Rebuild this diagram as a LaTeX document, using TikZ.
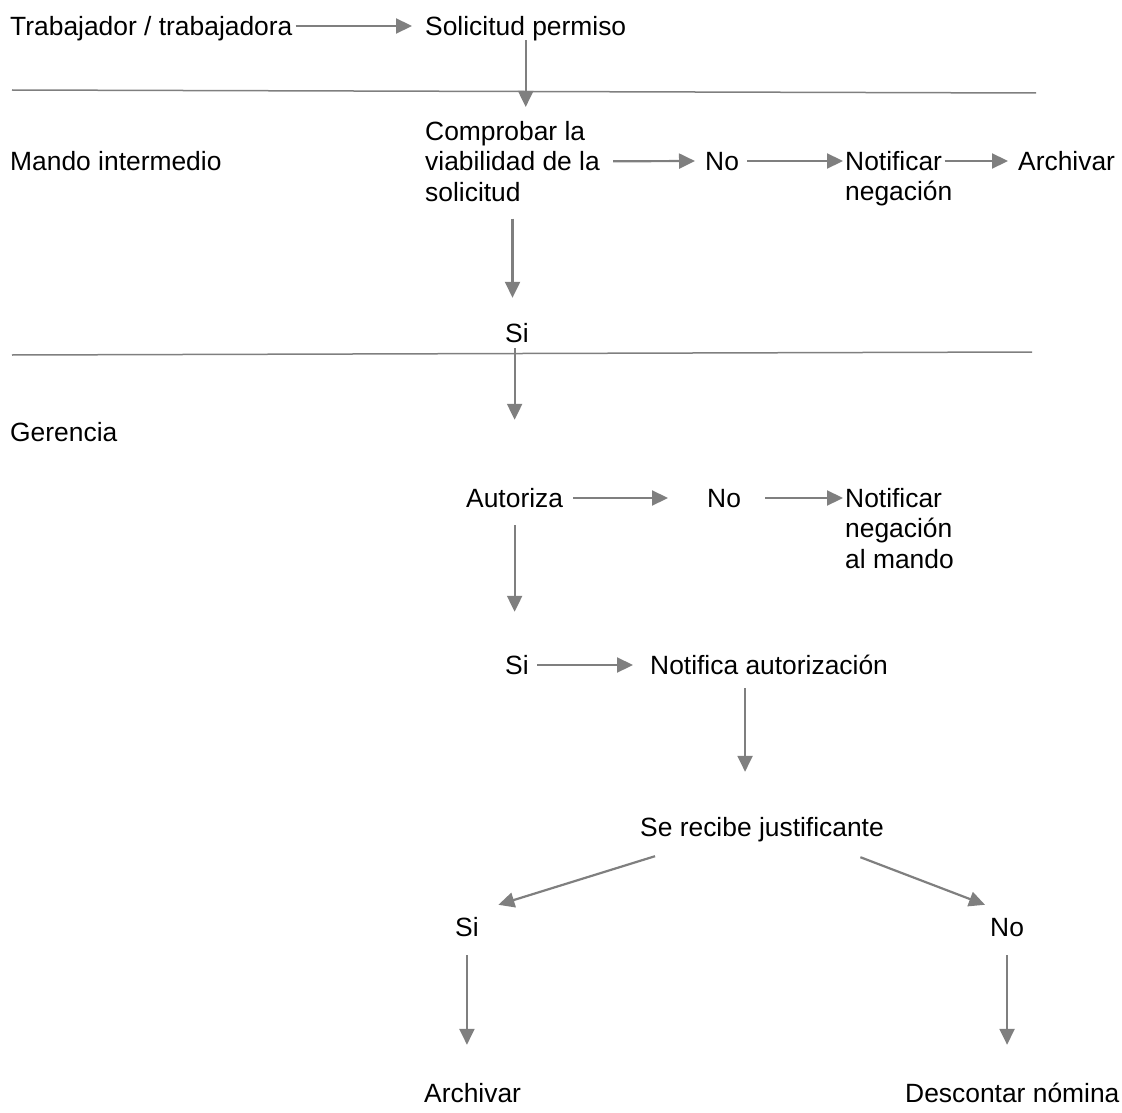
\documentclass[tikz,border=0pt]{standalone}
\usepackage{fontspec}
\setmainfont{Liberation Sans}
\usetikzlibrary{arrows.meta}
\definecolor{flowgray}{HTML}{7F7F7F}

\begin{document}
\begin{tikzpicture}[
  x=1pt, y=-1pt,
  every node/.style = {font=\fontsize{26.4}{30.4}\selectfont},
  lbl/.style = {
    inner sep=0pt,
    text height=19pt,
    text depth=0pt,
    anchor=west
  },
  lblm/.style = {
    inner sep=0pt,
    align=left,
    anchor=north west
  },
  flow/.style = {
    draw=flowgray,
    line width=2.2pt,
    -{Triangle[length=16pt,width=15pt]}
  },
  lane/.style = {draw=flowgray, line width=1.5pt},
]
  \useasboundingbox (0,0) rectangle (1122,1113);

  % lanes
  \draw[lane] (12,90)  -- (1036,93);
  \draw[lane] (12,355) -- (1032,352);
  \node (trab)[lbl]     at (10,26)   {Trabajador / trabajadora};
  \node (mando)[lbl]    at (10,161)  {Mando intermedio};
  \node (gerencia)[lbl] at (10,432)  {Gerencia};

  \node (solic)[lbl]      at (425,26)  {Solicitud permiso};
  \node (comprobar)[lblm] at (425,121) {Comprobar la\\viabilidad de la\\solicitud};
  \node (no1)[lbl]        at (705,161) {No};
  \node (notif1)[lblm]    at (845,151) {Notificar\\negación};
  \node (archivar1)[lbl]  at (1018,161) {Archivar};
  \node (si1)[lbl]        at (505,333) {Si};

  \node (autoriza)[lbl]   at (466,498) {Autoriza};
  \node (no2)[lbl]        at (707,498) {No};
  \node (notif2)[lblm]    at (845,488) {Notificar\\negación\\al mando};
  \node (si2)[lbl]        at (505,665) {Si};
  \node (notifaut)[lbl]   at (650,665) {Notifica autorización};
  \node (recibe)[lbl]     at (640,827) {Se recibe justificante};
  \node (si3)[lbl]        at (455,927) {Si};
  \node (no3)[lbl]        at (990,927) {No};
  \node (archivar2)[lbl]  at (424,1093) {Archivar};
  \node (descontar)[lbl]  at (905,1093) {Descontar nómina};

  \draw[flow, shorten <=3pt, shorten >=13pt] (trab) -- (solic);
  \draw[flow, shorten <=4.5pt, shorten >=14pt] (solic.south) -- (solic.south |- comprobar.north);
  \draw[flow, shorten <=13pt, shorten >=10pt] (comprobar.east) -- (no1.west);
  \draw[flow, shorten <=8pt, shorten >=2pt] (no1.east) -- (no1.east -| notif1.west);
  \draw[flow, shorten <=-8pt, shorten >=10pt] (notif1.east |- archivar1.west) -- (archivar1.west);
  \draw[flow, shorten <=17pt, shorten >=25.5pt] (comprobar.south) -- (comprobar.south |- si1.north);
  \draw[flow, shorten <=5.5pt, shorten >=68.5pt] (autoriza.north |- si1.south) -- (autoriza.north);

  \draw[flow, shorten <=10pt, shorten >=39pt] (autoriza.east) -- (no2.west);
  \draw[flow, shorten <=24pt, shorten >=2pt] (no2.east) -- (no2.east -| notif2.west);
  \draw[flow, shorten <=17.5pt, shorten >=43.5pt] (autoriza.south) -- (autoriza.south |- si2.north);
  \draw[flow, shorten <=8.5pt, shorten >=17pt] (si2.east) -- (notifaut.west);
  \draw[flow, shorten <=13.5pt, shorten >=45.5pt]
    ([xshift=-24pt]notifaut.south) -- ([xshift=-24pt]notifaut.south |- recibe.north);
  \draw[flow] ([xshift=15pt,yshift=-19.5pt]recibe.south west) -- ([xshift=19.5pt,yshift=12.5pt]si3.north east);
  \draw[flow] ([xshift=-23.6pt,yshift=-20.5pt]recibe.south east) -- ([xshift=-5pt,yshift=12.5pt]no3.north west);
  \draw[flow, shorten <=18.5pt, shorten >=38.5pt] (si3.south) -- (si3.south |- archivar2.north);
  \draw[flow, shorten <=18.5pt, shorten >=38.5pt] (no3.south) -- (no3.south |- descontar.north);
\end{tikzpicture}
\end{document}
